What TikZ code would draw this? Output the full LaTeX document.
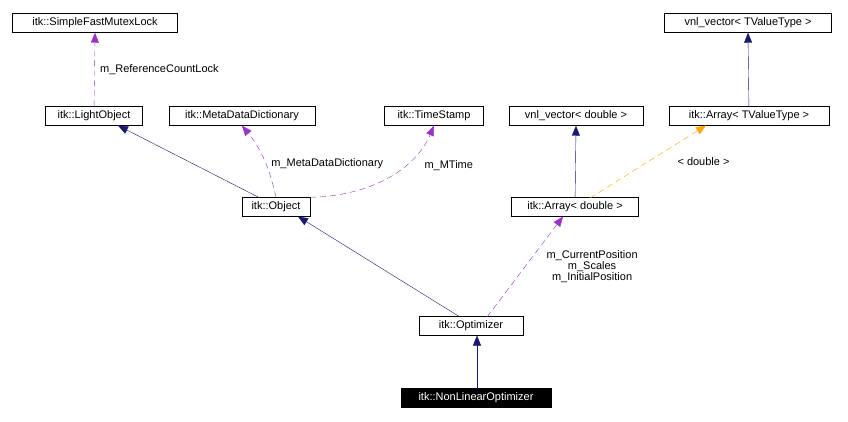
\documentclass[tikz,border=0pt]{standalone}
\usepackage{fontspec}
\setmainfont{Liberation Sans}
\usetikzlibrary{positioning,arrows.meta}
\definecolor{navy}{RGB}{25,25,112}
\definecolor{purp}{RGB}{153,51,204}
\definecolor{orng}{RGB}{255,165,0}
\tikzset{cls/.style={
        draw, 
        rectangle, 
        inner sep=0pt,
        minimum height=19pt,
        font=\fontsize{11}{12}\selectfont } }
\tikzset{inh/.style={navy, -{Triangle[fill=navy, length=10pt, width=8pt]}}}
\tikzset{use/.style={purp, dash pattern=on 6pt off 4pt, -{Triangle[fill=purp, length=10pt, width=8pt]}}}
\tikzset{tpl/.style={orng, dash pattern=on 6pt off 4pt, -{Triangle[fill=orng, length=10pt, width=8pt]}}}
\tikzset{lbl/.style={text=black, font=\fontsize{11}{13}\selectfont, align=center}}
\begin{document}
\begin{tikzpicture}[x=1pt,y=-1pt]
\useasboundingbox (0,0) rectangle (848,422);

\node[cls, minimum width=165pt] (mutex) at (95,23) {itk::SimpleFastMutexLock};
\node[cls, minimum width=97pt] (light) at (94,116) {itk::LightObject};
\node[cls, minimum width=146pt] (meta) at (242,116) {itk::MetaDataDictionary};
\node[cls, minimum width=99pt] (stamp) at (434,116) {itk::TimeStamp};
\node[cls, minimum width=134pt] (vnld) at (576,116) {vnl\_vector< double >};
\node[cls, minimum width=167pt] (vnlt) at (748,23) {vnl\_vector< TValueType >};
\node[cls, minimum width=160pt] (arrt) at (749,116) {itk::Array< TValueType >};
\node[cls, minimum width=68pt] (obj) at (276,207) {itk::Object};
\node[cls, minimum width=127pt] (arrd) at (575,207) {itk::Array< double >};
\node[cls, minimum width=104pt] (opt) at (471,326) {itk::Optimizer};
\node[cls, minimum width=150pt, fill=black, text=white] (nlo) at (476,398) {itk::NonLinearOptimizer};

\coordinate (objl) at (260,198);
\coordinate (lightb) at (118,125.5);
\coordinate (optl) at (460,317);
\coordinate (objb) at (298,216.5);
\coordinate (nlot) at (477,389);
\coordinate (optb) at (477,335.5);
\coordinate (optr) at (487,317);
\coordinate (arrdb) at (563,216.5);
\coordinate (arrdt) at (590,198);
\coordinate (arrtb) at (706,125.5);

\draw[inh] (objl) -- (lightb);
\draw[inh] (optl) -- (objb);
\draw[inh] (nlot) -- (optb);
\draw[inh] (arrd) -- (vnld.south);
\draw[inh] (arrt) -- (vnlt.south);

\draw[use] (light) -- node[lbl, right=2pt] {m\_ReferenceCountLock} (mutex.south);
\draw[use] (obj.north) .. controls (270,170) and (262,150) .. node[lbl, pos=0.45, right=2pt] {m\_MetaDataDictionary} (meta.south);
\draw[use] (obj.north east) .. controls (370,196) and (415,170) .. node[lbl, pos=0.65, right=16pt] {m\_MTime} (stamp.south);
\draw[use] (optr) -- node[lbl, pos=0.5, right=18pt] {m\_CurrentPosition\\[-2pt]m\_Scales\\[-2pt]m\_InitialPosition} (arrdb);
\draw[tpl] (arrdt) -- node[lbl, pos=0.5, right=26pt] {< double >} (arrtb);
\end{tikzpicture}
\end{document}
